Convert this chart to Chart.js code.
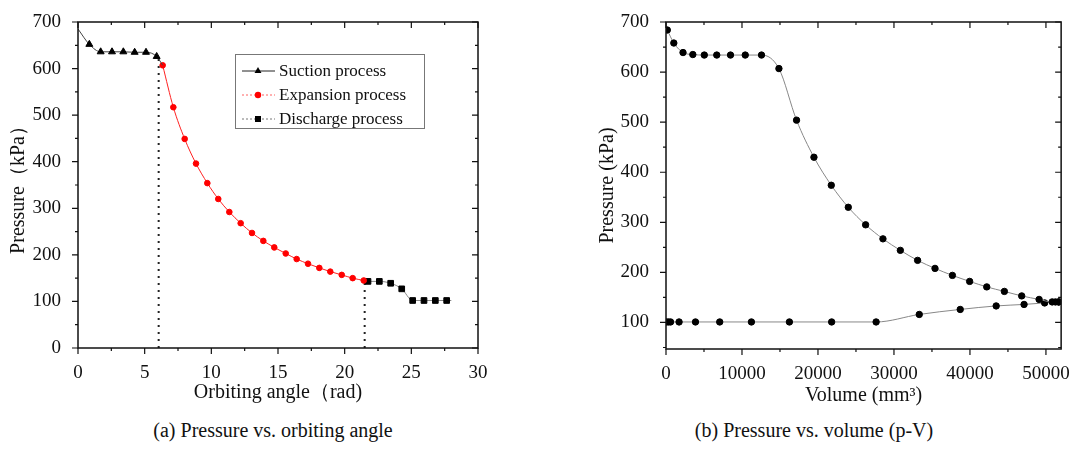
<!DOCTYPE html>
<html>
<head>
<meta charset="utf-8">
<script src="https://cdn.jsdelivr.net/npm/chart.js@4.4.0/dist/chart.umd.min.js"></script>
<style>
  body { margin:0; background:#fff; width:1076px; height:451px; position:relative; overflow:hidden; font-family:'Liberation Serif', serif; }
  #chartA { position:absolute; left:0; top:0; }
  #chartB { position:absolute; left:538px; top:0; }
  .caption { position:absolute; top:419px; font-size:20px; color:#111; white-space:nowrap; transform:translateX(-50%); }
</style>
</head>
<body>
<canvas id="chartA" width="538" height="410"></canvas>
<canvas id="chartB" width="538" height="410"></canvas>
<div class="caption" style="left:273px">(a) Pressure vs. orbiting angle</div>
<div class="caption" style="left:814px">(b) Pressure vs. volume (p-V)</div>
<script>
// (a) pressure vs orbiting angle
const angleTicks = [0, 5, 10, 15, 20, 25, 30];
const pressureTicksA = [0, 100, 200, 300, 400, 500, 600, 700];

const suctionAngle = [0, 0.85, 1.7, 2.55, 3.4, 4.25, 5.1, 5.9, 6.35];
const suctionP = [685, 652, 636, 636, 636, 635, 635, 626, 607];

const expansionAngle = [6.35, 7.15, 8.0, 8.85, 9.7, 10.52, 11.35, 12.2, 13.05, 13.9,
                        14.72, 15.58, 16.4, 17.25, 18.1, 18.92, 19.78, 20.6, 21.43];
const expansionP = [607, 517, 449, 396, 354, 320, 292, 268, 247, 230,
                    216, 203, 191, 181, 172, 164, 157, 150, 145];

const dischargeAngle = [21.43, 21.75, 22.6, 23.45, 24.28, 25.1, 25.95, 26.8, 27.65, 28.0];
const dischargeP = [145, 143, 143, 139, 127, 102, 102, 102, 102, 102];

const dividerAngle = [6.05, 21.5];
const dividerTop = [626, 143];

// (b) p-V diagram
const volumeTicks = [0, 10000, 20000, 30000, 40000, 50000];
const pressureTicksB = [100, 200, 300, 400, 500, 600, 700];

const upperVolume = [170, 1030, 2240, 3530, 5040, 6680, 8490, 10430, 12570, 14860,
                     17180, 19470, 21750, 23990, 26270, 28550, 30840, 33110, 35400,
                     37690, 39960, 42210, 44530, 46810, 49100, 50820, 51680];
const upperP = [684, 658, 639, 635, 634, 634, 634, 634, 634, 607,
                504, 430, 374, 330, 295, 267, 244, 224, 208,
                194, 182, 171, 162, 153, 146, 141, 141];

const lowerVolume = [0, 300, 600, 1720, 3880, 7070, 11240, 16240, 21800, 27650,
                     33330, 38720, 43450, 47120, 49830, 51250, 51680];
const lowerP = [101, 101, 101, 101, 101, 101, 101, 101, 101, 101,
                116, 126, 133, 136, 139, 141, 141];

const pts = (xs, ys) => xs.map((v, i) => ({x: v, y: ys[i]}));
const FONT = "'Liberation Serif', 'Times New Roman', serif";

// box + minor ticks, mirrored inward on top / right
const framePlugin = {
  id: 'frame',
  afterDatasetsDraw(chart, args, o) {
    const {ctx, chartArea: a} = chart;
    const sx = chart.scales.x, sy = chart.scales.y;
    const isMajor = (v, m) => Math.abs(v / m - Math.round(v / m)) < 1e-6;
    ctx.save();
    ctx.strokeStyle = '#111';
    ctx.lineWidth = 1.5;
    ctx.strokeRect(a.left, a.top, a.right - a.left, a.bottom - a.top);
    ctx.lineWidth = 1.2;
    ctx.beginPath();
    for (let v = o.xFrom; v <= sx.max + 1e-6; v += o.xStep) {
      const p = sx.getPixelForValue(v);
      const len = isMajor(v, o.xMajor) ? 6 : 3;
      ctx.moveTo(p, a.bottom); ctx.lineTo(p, a.bottom + len);
      ctx.moveTo(p, a.top); ctx.lineTo(p, a.top + len);
    }
    for (let v = o.yFrom; v <= sy.max + 1e-6; v += o.yStep) {
      const p = sy.getPixelForValue(v);
      const len = isMajor(v, o.yMajor) ? 6 : 3;
      ctx.moveTo(a.left, p); ctx.lineTo(a.left - len, p);
      ctx.moveTo(a.right, p); ctx.lineTo(a.right - len, p);
    }
    ctx.stroke();
    ctx.restore();
  }
};

function marker(ctx, style, x, y, r, color) {
  ctx.fillStyle = color;
  ctx.beginPath();
  if (style === 'triangle') {
    ctx.moveTo(x, y - r); ctx.lineTo(x + r * 0.87, y + r * 0.5); ctx.lineTo(x - r * 0.87, y + r * 0.5);
  } else if (style === 'rect') {
    ctx.rect(x - r * 0.75, y - r * 0.75, r * 1.5, r * 1.5);
  } else {
    ctx.arc(x, y, r, 0, Math.PI * 2);
  }
  ctx.closePath();
  ctx.fill();
}

// Origin-style legend box inside the plot
const legendPlugin = {
  id: 'legendBox',
  afterDraw(chart, args, o) {
    const ctx = chart.ctx;
    ctx.save();
    ctx.strokeStyle = '#777'; ctx.lineWidth = 1;
    ctx.strokeRect(o.x + 0.5, o.y + 0.5, o.w, o.h);
    ctx.font = '17px ' + FONT;
    ctx.textBaseline = 'middle';
    o.rows.forEach((r, i) => {
      const ds = chart.data.datasets[r.ds];
      const yy = o.y + o.first + i * o.gap;
      ctx.strokeStyle = r.line; ctx.lineWidth = 1;
      ctx.setLineDash(r.dash);
      ctx.beginPath(); ctx.moveTo(o.x + 7, yy); ctx.lineTo(o.x + 40, yy); ctx.stroke();
      ctx.setLineDash([]);
      marker(ctx, ds.pointStyle, o.x + 23, yy, r.r, ds.pointBackgroundColor);
      ctx.fillStyle = '#111';
      ctx.fillText(ds.label, o.x + 44, yy + 1);
    });
    ctx.restore();
  }
};

function axisX(ticksArr, min, max, title, pad, height) {
  return {
    type: 'linear', min: min, max: max,
    afterBuildTicks: s => { s.ticks = ticksArr.map(v => ({value: v})); },
    afterFit: s => { s.height = height; },
    grid: {display: false}, border: {display: false},
    ticks: {padding: pad, color: '#111', font: {family: FONT, size: 19}, maxRotation: 0, autoSkip: false,
            callback: v => String(v)},
    title: {display: true, text: title, color: '#111', padding: 0, font: {family: FONT, size: 20}}
  };
}
function axisY(ticksArr, min, max, title, width) {
  return {
    type: 'linear', min: min, max: max,
    afterBuildTicks: s => { s.ticks = ticksArr.map(v => ({value: v})); },
    afterFit: s => { s.width = width; },
    grid: {display: false}, border: {display: false},
    ticks: {padding: 9, color: '#111', font: {family: FONT, size: 19}, autoSkip: false,
            callback: v => String(v)},
    title: {display: true, text: title, color: '#111', padding: 0, font: {family: FONT, size: 20}}
  };
}

const dividerSets = dividerAngle.map((a, i) => ({
  label: 'divider' + i,
  data: [{x: a, y: 0}, {x: a, y: dividerTop[i]}],
  showLine: true, borderColor: '#222', borderWidth: 2, borderDash: [2, 5],
  pointRadius: 0, tension: 0
}));

new Chart(document.getElementById('chartA'), {
  type: 'scatter',
  data: {
    datasets: [
      {
        label: 'Suction process',
        data: pts(suctionAngle, suctionP),
        showLine: true, borderColor: '#444', borderWidth: 1,
        pointStyle: 'triangle', pointBackgroundColor: '#000', pointBorderColor: '#000',
        pointRadius: suctionAngle.map((v, i) => (i === 0 || i === suctionAngle.length - 1) ? 0 : 4),
        cubicInterpolationMode: 'monotone'
      },
      {
        label: 'Expansion process',
        data: pts(expansionAngle, expansionP),
        showLine: true, borderColor: '#ff2020', borderWidth: 1,
        pointStyle: 'circle', pointBackgroundColor: '#ff0000', pointBorderColor: '#ff0000',
        pointRadius: 2.8, cubicInterpolationMode: 'monotone'
      },
      {
        label: 'Discharge process',
        data: pts(dischargeAngle, dischargeP),
        showLine: true, borderColor: '#888', borderWidth: 1,
        pointStyle: 'rect', pointBackgroundColor: '#000', pointBorderColor: '#000',
        pointRadius: dischargeAngle.map((v, i) => (i === 0 || i === dischargeAngle.length - 1) ? 0 : 4),
        cubicInterpolationMode: 'monotone'
      }
    ].concat(dividerSets)
  },
  options: {
    responsive: false, animation: false,
    layout: {padding: {left: 7, top: 22, right: 60, bottom: 5}},
    plugins: {
      legend: {display: false}, tooltip: {enabled: false},
      frame: {xFrom: 0, xStep: 2.5, xMajor: 5, yFrom: 0, yStep: 50, yMajor: 100},
      legendBox: {
        x: 235, y: 54, w: 189, h: 74, first: 17, gap: 24,
        rows: [
          {ds: 0, line: '#222', dash: [], r: 4},
          {ds: 1, line: '#ff6060', dash: [2, 2], r: 3.2},
          {ds: 2, line: '#777', dash: [2, 2], r: 4}
        ]
      }
    },
    scales: {
      x: axisX(angleTicks, 0, 30, 'Orbiting angle（rad)', 6, 57),
      y: axisY(pressureTicksA, 0, 700, 'Pressure（kPa）', 71)
    }
  },
  plugins: [framePlugin, legendPlugin]
});

new Chart(document.getElementById('chartB'), {
  type: 'scatter',
  data: {
    datasets: [
      {
        label: 'p-V upper',
        data: pts(upperVolume, upperP),
        showLine: true, borderColor: '#888', borderWidth: 1,
        pointBackgroundColor: '#000', pointBorderColor: '#000', pointRadius: 3.2,
        cubicInterpolationMode: 'monotone'
      },
      {
        label: 'p-V lower',
        data: pts(lowerVolume, lowerP),
        showLine: true, borderColor: '#888', borderWidth: 1,
        pointBackgroundColor: '#000', pointBorderColor: '#000', pointRadius: 3.2,
        cubicInterpolationMode: 'monotone'
      }
    ]
  },
  options: {
    responsive: false, animation: false,
    layout: {padding: {left: 58, top: 22, right: 8, bottom: 2}},
    plugins: {
      legend: {display: false}, tooltip: {enabled: false},
      frame: {xFrom: 0, xStep: 5000, xMajor: 10000, yFrom: 50, yStep: 50, yMajor: 100}
    },
    scales: {
      x: axisX(volumeTicks, 0, 52000, 'Volume (mm³)', 6, 59),
      y: axisY(pressureTicksB, 47, 700, 'Pressure (kPa)', 70)
    }
  },
  plugins: [framePlugin]
});
</script>
</body>
</html>
